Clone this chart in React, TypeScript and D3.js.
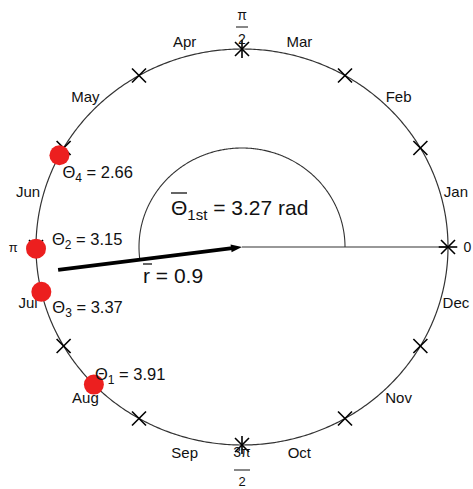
import React from "react";
import * as d3 from "d3";

const W = 473;
const H = 489;

const months = ["Jan", "Feb", "Mar", "Apr", "May", "Jun", "Jul", "Aug", "Sep", "Oct", "Nov", "Dec"];
const tickDegrees = d3.range(0, 360, 30);
const axisDegrees = [0, 90, 180, 270];

const pointNames = ["1", "2", "3", "4"];
const pointThetas = [3.91, 3.15, 3.37, 2.66];
const pointLabelDx = [1, 16, 11, 3];
const pointLabelDy = [-5, -4, 21, 23];

const meanTheta = 3.27;
const meanR = 0.9;

export default function App() {
  const cx = 242, cy = 247, rx = 206, ry = 198;
  const x = d3.scaleLinear().domain([-1, 1]).range([cx - rx, cx + rx]);
  const y = d3.scaleLinear().domain([-1, 1]).range([cy + ry, cy - ry]);
  const P = (a: number, r = 1): [number, number] => [x(r * Math.cos(a)), y(r * Math.sin(a))];
  const rad = (d: number) => (d * Math.PI) / 180;

  const line = d3.line<number>().x((a) => P(a)[0]).y((a) => P(a)[1]);
  const circlePath = line(d3.range(0, 2 * Math.PI + 0.01, 0.01)) + "Z";
  const arcLine = d3.line<number>().x((a) => P(a, 0.5)[0]).y((a) => P(a, 0.5)[1]);
  const arcPts = d3.range(0, meanTheta, 0.01).concat([meanTheta]);
  const arcPath = arcLine(arcPts)!;

  const tip = P(meanTheta, meanR);
  const center = P(0, 0);
  const ang = Math.atan2(center[1] - tip[1], center[0] - tip[0]);
  const ah = 11, aw = 4;
  const arrowHead = [
    center,
    [center[0] - ah * Math.cos(ang) + aw * Math.sin(ang), center[1] - ah * Math.sin(ang) - aw * Math.cos(ang)],
    [center[0] - ah * Math.cos(ang) - aw * Math.sin(ang), center[1] - ah * Math.sin(ang) + aw * Math.cos(ang)],
  ];
  const lineEnd = [center[0] - ah * 0.7 * Math.cos(ang), center[1] - ah * 0.7 * Math.sin(ang)];

  const font = "'Liberation Sans', Arial, sans-serif";
  const cs = 7;

  return (
    <svg width={W} height={H} style={{ position: "absolute", left: 0, top: 0, background: "#fff" }} fontFamily={font}>
      <path d={circlePath} fill="none" stroke="#333" strokeWidth={1.2} />
      {/* zero line */}
      <line x1={center[0]} y1={center[1]} x2={P(0)[0]} y2={P(0)[1]} stroke="#333" strokeWidth={1.2} />
      <path d={arcPath} fill="none" stroke="#333" strokeWidth={1.1} />
      {/* crosses */}
      {tickDegrees.map((d) => {
        const [px, py] = P(rad(d));
        return (
          <g key={d} stroke="#000" strokeWidth={1.6}>
            <line x1={px - cs} y1={py - cs} x2={px + cs} y2={py + cs} />
            <line x1={px - cs} y1={py + cs} x2={px + cs} y2={py - cs} />
          </g>
        );
      })}
      {axisDegrees.map((d) => {
        const [ax, ay] = P(rad(d), 0.955);
        const [bx, by] = P(rad(d), 1.045);
        return <line key={"a" + d} x1={ax} y1={ay} x2={bx} y2={by} stroke="#000" strokeWidth={1.6} />;
      })}
      {/* month labels */}
      {months.map((m, i) => {
        const [px, py] = P(rad(15 + 30 * i), 1.075);
        return (
          <text key={m} x={px} y={py} fontSize={15} textAnchor="middle" dominantBaseline="central" fill="#111">
            {m}
          </text>
        );
      })}
      {/* axis labels */}
      <text x={P(0, 1.075)[0]} y={P(0)[1]} fontSize={14} dominantBaseline="central" fill="#111">0</text>
      <text x={P(Math.PI, 1.11)[0]} y={P(Math.PI)[1]} fontSize={13} textAnchor="middle" dominantBaseline="central" fill="#111">π</text>
      <g fill="#111" fontSize={14} textAnchor="middle">
        <text x={cx} y={20}>π</text>
        <line x1={cx - 6} x2={cx + 6} y1={27} y2={27} stroke="#111" strokeWidth={1} />
        <text x={cx} y={44}>2</text>
        <text x={cx} y={457}>3π</text>
        <line x1={cx - 8} x2={cx + 8} y1={470} y2={470} stroke="#111" strokeWidth={1} />
        <text x={cx} y={486} fontSize={13}>2</text>
      </g>
      {/* mean arrow */}
      <line x1={tip[0]} y1={tip[1]} x2={lineEnd[0]} y2={lineEnd[1]} stroke="#000" strokeWidth={3.8} />
      <polygon points={arrowHead.map((p) => p.join(",")).join(" ")} fill="#000" />
      {/* points */}
      {pointThetas.map((t, i) => {
        const [px, py] = P(t);
        return <circle key={i} cx={px} cy={py} r={10} fill="#ec1f1f" />;
      })}
      {pointThetas.map((t, i) => {
        const [px, py] = P(t);
        return (
          <text key={"l" + i} x={px + pointLabelDx[i]} y={py + pointLabelDy[i]} fontSize={16.5} fill="#111">
            Θ<tspan fontSize={12} dy={4}>{pointNames[i]}</tspan>
            <tspan dy={-4}> = {t.toFixed(2)}</tspan>
          </text>
        );
      })}
      {/* mean labels */}
      <text x={171} y={215} fontSize={21} fill="#111">
        Θ<tspan fontSize={15} dy={5}>1st</tspan>
        <tspan dy={-5}> = {meanTheta.toFixed(2)} rad</tspan>
      </text>
      <line x1={171} x2={187} y1={193} y2={193} stroke="#111" strokeWidth={1.3} />
      <text x={143} y={283} fontSize={21} fill="#111">
        r = {meanR}
      </text>
      <line x1={143} x2={152} y1={264} y2={264} stroke="#111" strokeWidth={1.3} />
    </svg>
  );
}
